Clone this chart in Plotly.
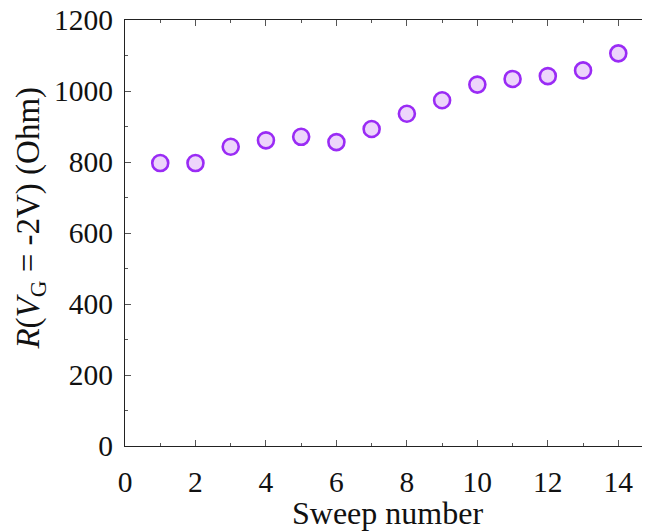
import plotly.graph_objects as go

sweep = list(range(1, 15))
resistance = [797, 797, 843, 861, 871, 856, 893, 936, 974, 1018, 1034, 1042, 1058, 1106]

x_ticks = [0, 2, 4, 6, 8, 10, 12, 14]
y_ticks = [0, 200, 400, 600, 800, 1000, 1200]

fig = go.Figure()
fig.add_trace(go.Scatter(
    x=sweep, y=resistance, mode="markers",
    marker=dict(symbol="circle", size=16, color="#EDD5FB",
                line=dict(color="#9A2BF5", width=2.6)),
    showlegend=False,
))

font_family = "Liberation Serif"
axis_common = dict(
    showline=True, linecolor="#222", linewidth=1.3, mirror="ticks",
    ticks="inside", ticklen=6, tickwidth=1.2, tickcolor="#555",
    showgrid=False, zeroline=False, ticklabeloverflow="allow",
    tickfont=dict(family=font_family, size=29.5, color="#111"),
)

fig.update_xaxes(
    range=[0, 14.9], tickvals=x_ticks, ticktext=[str(v) for v in x_ticks],
    minor=dict(ticks="inside", ticklen=3, tickwidth=1, tickcolor="#555", dtick=1, tick0=0),
    title=dict(text="Sweep number", font=dict(family=font_family, size=32, color="#111"), standoff=1),
    ticklabelstandoff=9,
    **axis_common,
)
fig.update_yaxes(
    range=[0, 1200], tickvals=y_ticks, ticktext=[str(v) for v in y_ticks],
    minor=dict(ticks="inside", ticklen=3, tickwidth=1, tickcolor="#555", dtick=100, tick0=0),
    ticklabelstandoff=5,
    **axis_common,
)

fig.add_annotation(
    text="<i>R</i>(<i>V</i><sub>G</sub> = -2V) (Ohm)",
    xref="paper", yref="paper", x=-0.18, y=0.535,
    xanchor="center", yanchor="middle", textangle=-90, showarrow=False,
    font=dict(family=font_family, size=33, color="#111"),
)

fig.update_layout(
    width=642, height=523,
    margin=dict(l=117, r=0, t=12, b=85, autoexpand=False),
    plot_bgcolor="white", paper_bgcolor="white",
)

fig.write_html("out.html")
